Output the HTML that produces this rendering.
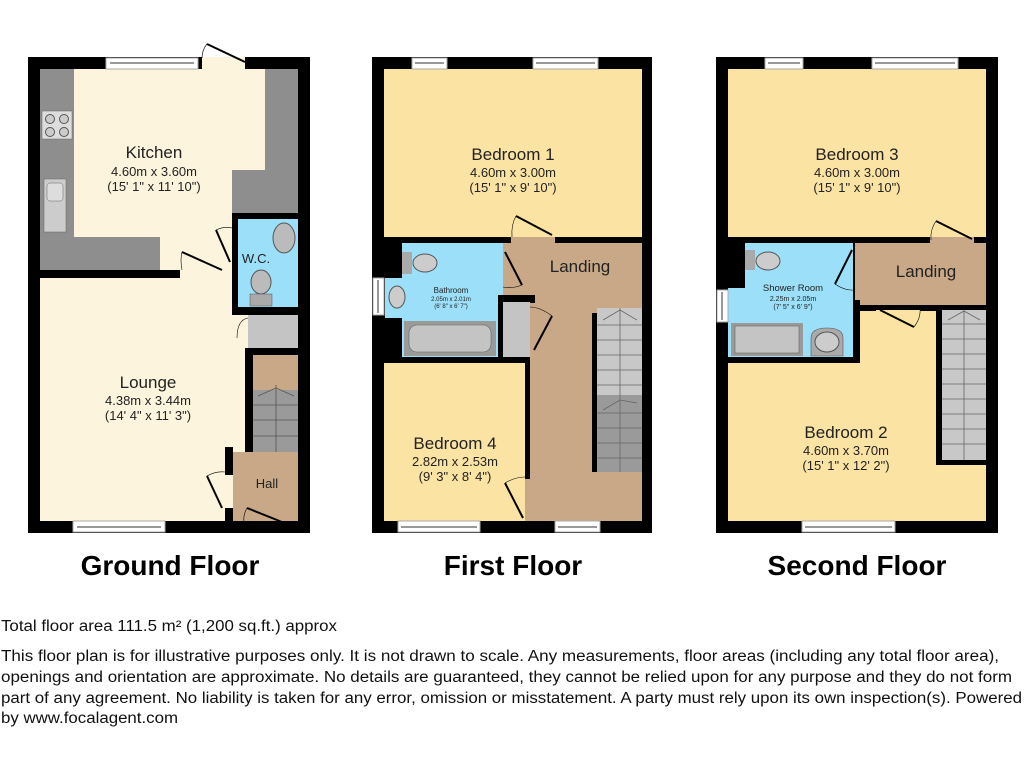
<!DOCTYPE html>
<html><head><meta charset="utf-8"><style>
html,body{margin:0;padding:0;background:#fff;}
svg{display:block;font-family:"Liberation Sans",Arial,sans-serif;}
.w{fill:#fff;stroke:#aaa;stroke-width:1}
</style></head><body>
<svg width="1024" height="768" viewBox="0 0 1024 768" xmlns="http://www.w3.org/2000/svg">
<!-- ===== GROUND FLOOR ===== -->
<rect x="28" y="57" width="282" height="476" fill="#000"/>
<rect x="40" y="69" width="258" height="452" fill="#fcf4dc"/>
<rect x="40" y="69" width="34" height="201" fill="#8e8e8e"/>
<rect x="40" y="237" width="120" height="33" fill="#8e8e8e"/>
<rect x="265" y="69" width="33" height="144" fill="#8e8e8e"/>
<rect x="232" y="170" width="66" height="43" fill="#8e8e8e"/>
<rect x="42" y="111" width="30" height="28" fill="#ddd" stroke="#666" stroke-width="0.5"/>
<circle cx="50" cy="119" r="4.5" fill="#ccc" stroke="#555"/><circle cx="64" cy="119" r="4.5" fill="#ccc" stroke="#555"/>
<circle cx="50" cy="132" r="4.5" fill="#ccc" stroke="#555"/><circle cx="64" cy="132" r="4.5" fill="#ccc" stroke="#555"/>
<rect x="44" y="179" width="22" height="53" fill="#ccc" stroke="#666" stroke-width="0.5"/>
<rect x="47" y="183" width="16" height="18" rx="3" fill="#ddd" stroke="#666" stroke-width="0.5"/>
<rect x="40" y="270" width="140" height="8" fill="#000"/>
<rect x="232" y="213" width="66" height="102" fill="#000"/>
<rect x="238" y="219" width="60" height="88" fill="#9be0f8"/>
<ellipse cx="284" cy="238" rx="11" ry="15" fill="#bbb" stroke="#555"/>
<ellipse cx="261" cy="282" rx="10" ry="12" fill="#bbb" stroke="#555"/>
<rect x="250" y="294" width="22" height="12" fill="#aaa" stroke="#555" stroke-width="0.5"/>
<text x="256" y="263" font-size="13" text-anchor="middle" fill="#222">W.C.</text>
<rect x="248" y="315" width="50" height="33" fill="#c4c4c4"/>
<rect x="245" y="348" width="53" height="7" fill="#000"/>
<rect x="245" y="348" width="8" height="104" fill="#000"/>
<rect x="253" y="355" width="45" height="97" fill="#c9a888"/>
<rect x="253" y="390" width="45" height="62" fill="#9a9a9a"/>
<g stroke="#555" stroke-width="0.8">
<line x1="253" y1="405" x2="298" y2="405"/><line x1="253" y1="420" x2="298" y2="420"/><line x1="253" y1="436" x2="298" y2="436"/>
<line x1="276" y1="385" x2="276" y2="452"/><line x1="258" y1="396" x2="276" y2="388"/><line x1="276" y1="388" x2="294" y2="396"/>
</g>
<rect x="225" y="447" width="8" height="28" fill="#000"/>
<rect x="225" y="508" width="8" height="13" fill="#000"/>
<rect x="233" y="452" width="65" height="69" fill="#c9a888"/>
<text x="267" y="488" font-size="13" text-anchor="middle" fill="#222">Hall</text>
<rect class="w" x="106" y="58" width="92" height="11"/><line x1="110" y1="63" x2="194" y2="63" stroke="#999" stroke-width="2"/>
<rect class="w" x="73" y="521" width="92" height="11"/><line x1="77" y1="527" x2="161" y2="527" stroke="#999" stroke-width="2"/>
<rect x="202" y="57" width="43" height="12" fill="#fcf4dc"/>
<g stroke="#000" stroke-width="2" fill="none">
<line x1="207" y1="44" x2="245" y2="62"/>
<line x1="182" y1="252" x2="222" y2="270"/>
<line x1="216" y1="230" x2="230" y2="262"/>
<line x1="207" y1="476" x2="222" y2="508"/>
<line x1="247" y1="508" x2="282" y2="522"/>
</g>
<g stroke="#000" stroke-width="0.6" fill="none">
<path d="M207 44 Q202 50 202 58"/><path d="M182 252 Q180 260 182 270"/><path d="M216 230 Q225 226 232 228"/>
<path d="M207 476 Q216 471 225 472"/><path d="M237 338 Q237 320 248 318"/><path d="M247 508 Q243 515 244 522"/>
</g>
<text x="154" y="158" font-size="17" text-anchor="middle" fill="#222">Kitchen</text>
<text x="154" y="176" font-size="13" text-anchor="middle" fill="#222">4.60m x 3.60m</text>
<text x="154" y="191" font-size="13" text-anchor="middle" fill="#222">(15' 1" x 11' 10")</text>
<text x="148" y="388" font-size="17" text-anchor="middle" fill="#222">Lounge</text>
<text x="148" y="405" font-size="13" text-anchor="middle" fill="#222">4.38m x 3.44m</text>
<text x="148" y="420" font-size="13" text-anchor="middle" fill="#222">(14' 4" x 11' 3")</text>

<!-- ===== FIRST FLOOR ===== -->
<rect x="372" y="57" width="280" height="476" fill="#000"/>
<rect x="384" y="69" width="258" height="168" fill="#fbe3a3"/>
<rect x="503" y="243" width="139" height="278" fill="#c9a888"/>
<rect x="402" y="243" width="101" height="52" fill="#9be0f8"/>
<rect x="385" y="278" width="118" height="40" fill="#9be0f8"/>
<rect x="402" y="318" width="96" height="39" fill="#9be0f8"/>
<rect x="404" y="321" width="92" height="35" fill="#9a9a9a"/>
<rect x="409" y="325" width="82" height="27" rx="8" fill="#c4c4c4" stroke="#666" stroke-width="0.6"/>
<ellipse cx="425" cy="263" rx="12" ry="9" fill="#ccc" stroke="#555"/><rect x="402" y="252" width="10" height="22" fill="#aaa"/>
<ellipse cx="397" cy="297" rx="8" ry="11" fill="#ccc" stroke="#555"/>
<rect x="498" y="295" width="5" height="62" fill="#000"/>
<rect x="503" y="295" width="32" height="8" fill="#000"/>
<rect x="503" y="302" width="27" height="55" fill="#c4c4c4"/>
<rect x="384" y="357" width="146" height="6" fill="#000"/>
<rect x="525" y="357" width="5" height="164" fill="#000"/>
<rect x="384" y="363" width="141" height="158" fill="#fbe3a3"/>
<rect x="525" y="479" width="5" height="42" fill="#c9a888"/>
<rect x="592" y="313" width="5" height="159" fill="#000"/>
<rect x="597" y="308" width="45" height="164" fill="#9a9a9a"/>
<rect x="597" y="308" width="45" height="87" fill="#c8c8c8"/>
<g stroke="#666" stroke-width="0.8">
<line x1="620" y1="308" x2="620" y2="472"/>
<line x1="597" y1="325" x2="642" y2="325"/><line x1="597" y1="340" x2="642" y2="340"/><line x1="597" y1="355" x2="642" y2="355"/><line x1="597" y1="370" x2="642" y2="370"/><line x1="597" y1="385" x2="642" y2="385"/>
<line x1="597" y1="413" x2="642" y2="413"/><line x1="597" y1="428" x2="642" y2="428"/><line x1="597" y1="443" x2="642" y2="443"/><line x1="597" y1="458" x2="642" y2="458"/>
<line x1="603" y1="320" x2="620" y2="310"/><line x1="620" y1="310" x2="637" y2="320"/>
<line x1="603" y1="410" x2="620" y2="400"/><line x1="620" y1="400" x2="637" y2="403"/>
</g>
<rect class="w" x="412" y="58" width="35" height="11"/><line x1="415" y1="63" x2="444" y2="63" stroke="#999" stroke-width="2"/>
<rect class="w" x="533" y="58" width="65" height="11"/><line x1="536" y1="63" x2="595" y2="63" stroke="#999" stroke-width="2"/>
<rect class="w" x="398" y="521" width="82" height="11"/><line x1="401" y1="527" x2="477" y2="527" stroke="#999" stroke-width="2"/>
<rect class="w" x="555" y="521" width="45" height="11"/><line x1="558" y1="527" x2="597" y2="527" stroke="#999" stroke-width="2"/>
<rect class="w" x="373" y="278" width="11" height="37"/><line x1="378" y1="280" x2="378" y2="313" stroke="#999" stroke-width="2"/>
<rect x="511" y="237" width="44" height="6" fill="#c9a888"/>
<g stroke="#000" stroke-width="2" fill="none">
<line x1="516" y1="216" x2="552" y2="235"/>
<line x1="505" y1="252" x2="522" y2="285"/>
<line x1="552" y1="316" x2="534" y2="350"/>
<line x1="505" y1="483" x2="523" y2="518"/>
</g>
<g stroke="#000" stroke-width="0.6" fill="none">
<path d="M516 216 Q511 225 512 237"/><path d="M522 285 Q512 289 503 287"/><path d="M552 316 Q540 307 530 307"/><path d="M505 483 Q515 477 525 477"/>
</g>
<text x="513" y="160" font-size="17" text-anchor="middle" fill="#222">Bedroom 1</text>
<text x="513" y="177" font-size="13" text-anchor="middle" fill="#222">4.60m x 3.00m</text>
<text x="513" y="192" font-size="13" text-anchor="middle" fill="#222">(15' 1" x 9' 10")</text>
<text x="580" y="272" font-size="17" text-anchor="middle" fill="#222">Landing</text>
<text x="451" y="293" font-size="8" text-anchor="middle" fill="#222">Bathroom</text>
<text x="451" y="301" font-size="6" text-anchor="middle" fill="#222">2.05m x 2.01m</text>
<text x="451" y="308" font-size="6" text-anchor="middle" fill="#222">(6' 8" x 6' 7")</text>
<text x="455" y="449" font-size="17" text-anchor="middle" fill="#222">Bedroom 4</text>
<text x="455" y="466" font-size="13" text-anchor="middle" fill="#222">2.82m x 2.53m</text>
<text x="455" y="481" font-size="13" text-anchor="middle" fill="#222">(9' 3" x 8' 4")</text>

<!-- ===== SECOND FLOOR ===== -->
<rect x="716" y="57" width="282" height="476" fill="#000"/>
<rect x="728" y="69" width="258" height="168" fill="#fbe3a3"/>
<rect x="728" y="310" width="258" height="211" fill="#fbe3a3"/>
<rect x="855" y="243" width="131" height="62" fill="#c9a888"/>
<rect x="745" y="243" width="108" height="57" fill="#9be0f8"/>
<rect x="728" y="288" width="125" height="69" fill="#9be0f8"/>
<rect x="860" y="305" width="16" height="6" fill="#000"/>
<rect x="920" y="305" width="66" height="6" fill="#000"/>
<rect x="853" y="300" width="7" height="63" fill="#000"/>
<rect x="728" y="357" width="132" height="6" fill="#000"/>
<rect x="936" y="310" width="50" height="155" fill="#000"/>
<rect x="942" y="310" width="44" height="150" fill="#c8c8c8"/>
<g stroke="#666" stroke-width="0.8">
<line x1="964" y1="310" x2="964" y2="460"/>
<line x1="942" y1="324" x2="986" y2="324"/><line x1="942" y1="339" x2="986" y2="339"/><line x1="942" y1="354" x2="986" y2="354"/><line x1="942" y1="369" x2="986" y2="369"/><line x1="942" y1="384" x2="986" y2="384"/><line x1="942" y1="399" x2="986" y2="399"/><line x1="942" y1="414" x2="986" y2="414"/><line x1="942" y1="429" x2="986" y2="429"/><line x1="942" y1="444" x2="986" y2="444"/>
<line x1="948" y1="320" x2="964" y2="311"/><line x1="964" y1="311" x2="980" y2="320"/>
</g>
<rect x="745" y="250" width="10" height="20" fill="#aaa"/><ellipse cx="768" cy="261" rx="12" ry="9" fill="#ccc" stroke="#555"/>
<rect x="731" y="323" width="72" height="33" fill="#9a9a9a"/><rect x="735" y="326" width="64" height="27" fill="#c4c4c4" stroke="#666" stroke-width="0.6"/>
<path d="M811 356 L811 338 Q811 328 827 328 Q843 328 843 338 L843 356 Z" fill="#aaa" stroke="#555" stroke-width="0.6"/>
<ellipse cx="827" cy="342" rx="12" ry="10" fill="#ccc" stroke="#555"/>
<rect class="w" x="765" y="58" width="38" height="11"/><line x1="768" y1="63" x2="800" y2="63" stroke="#999" stroke-width="2"/>
<rect class="w" x="872" y="58" width="86" height="11"/><line x1="875" y1="63" x2="955" y2="63" stroke="#999" stroke-width="2"/>
<rect class="w" x="802" y="521" width="93" height="11"/><line x1="805" y1="527" x2="892" y2="527" stroke="#999" stroke-width="2"/>
<rect class="w" x="717" y="290" width="11" height="32"/><line x1="722" y1="292" x2="722" y2="320" stroke="#999" stroke-width="2"/>
<rect x="930" y="237" width="44" height="6" fill="#c9a888"/>
<g stroke="#000" stroke-width="2" fill="none">
<line x1="936" y1="221" x2="972" y2="239"/>
<line x1="852" y1="250" x2="835" y2="284"/>
<line x1="880" y1="310" x2="914" y2="327"/>
</g>
<g stroke="#000" stroke-width="0.6" fill="none">
<path d="M936 221 Q930 230 931 240"/><path d="M835 284 Q845 291 855 290"/><path d="M914 327 Q921 318 920 308"/>
</g>
<text x="857" y="160" font-size="17" text-anchor="middle" fill="#222">Bedroom 3</text>
<text x="857" y="177" font-size="13" text-anchor="middle" fill="#222">4.60m x 3.00m</text>
<text x="857" y="192" font-size="13" text-anchor="middle" fill="#222">(15' 1" x 9' 10")</text>
<text x="926" y="277" font-size="17" text-anchor="middle" fill="#222">Landing</text>
<text x="793" y="291" font-size="9.5" text-anchor="middle" fill="#222">Shower Room</text>
<text x="793" y="301" font-size="7" text-anchor="middle" fill="#222">2.25m x 2.05m</text>
<text x="793" y="309" font-size="7" text-anchor="middle" fill="#222">(7' 5" x 6' 9")</text>
<text x="846" y="438" font-size="17" text-anchor="middle" fill="#222">Bedroom 2</text>
<text x="846" y="455" font-size="13" text-anchor="middle" fill="#222">4.60m x 3.70m</text>
<text x="846" y="470" font-size="13" text-anchor="middle" fill="#222">(15' 1" x 12' 2")</text>

<text x="170" y="575" font-size="28" font-weight="bold" text-anchor="middle" fill="#000">Ground Floor</text>
<text x="513" y="575" font-size="28" font-weight="bold" text-anchor="middle" fill="#000">First Floor</text>
<text x="857" y="575" font-size="28" font-weight="bold" text-anchor="middle" fill="#000">Second Floor</text>

<g font-size="15.5" fill="#111">
<text x="1" y="631" textLength="336" lengthAdjust="spacingAndGlyphs">Total floor area 111.5 m² (1,200 sq.ft.) approx</text>
<text x="1" y="661" textLength="998" lengthAdjust="spacingAndGlyphs">This floor plan is for illustrative purposes only. It is not drawn to scale. Any measurements, floor areas (including any total floor area),</text>
<text x="1" y="682" textLength="1011" lengthAdjust="spacingAndGlyphs">openings and orientation are approximate. No details are guaranteed, they cannot be relied upon for any purpose and they do not form</text>
<text x="1" y="703" textLength="1021" lengthAdjust="spacingAndGlyphs">part of any agreement. No liability is taken for any error, omission or misstatement. A party must rely upon its own inspection(s). Powered</text>
<text x="1" y="723" textLength="177" lengthAdjust="spacingAndGlyphs">by www.focalagent.com</text>
</g>
</svg>
</body></html>
